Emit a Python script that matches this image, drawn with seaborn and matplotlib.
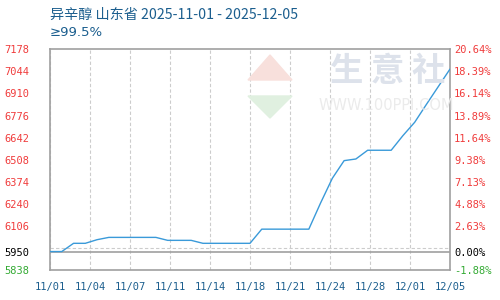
import numpy as np
import pandas as pd
import matplotlib
matplotlib.use("Agg")
import matplotlib.pyplot as plt
import matplotlib.dates as mdates
from matplotlib.patches import Polygon
import seaborn as sns

# ---------------- data ----------------
dates = pd.date_range("2025-11-01", "2025-12-05", freq="D").strftime("%Y-%m-%d").tolist()
prices = [5950, 5950, 6000, 6000, 6022, 6036, 6036, 6036, 6036, 6036,
          6018, 6018, 6018, 6000, 6000, 6000, 6000, 6000, 6086, 6086,
          6086, 6086, 6086, 6245, 6395, 6502, 6512, 6565, 6565, 6565,
          6654, 6735, 6844, 6951, 7058]
x_tick_labels = ["11/01", "11/04", "11/07", "11/11", "11/14", "11/18",
                 "11/21", "11/24", "11/28", "12/01", "12/05"]
base_price = 5950
y_low, y_high = 5838, 7178
left_tick_values = [5838, 5950, 6106, 6240, 6374, 6508, 6642, 6776, 6910, 7044, 7178]
right_tick_labels = ["-1.88%", "0.00%", "2.63%", "4.88%", "7.13%", "9.38%",
                     "11.64%", "13.89%", "16.14%", "18.39%", "20.64%"]
title_line1 = "异辛醇 山东省 2025-11-01 - 2025-12-05"
title_line2 = "≥99.5%"
watermark_cn = "生 意 社"
watermark_en = "WWW.100PPI.COM"

df = pd.DataFrame({"date": pd.to_datetime(dates), "price": prices})

# ---------------- style ----------------
sns.set_style("white")
plt.rcParams["font.family"] = ["DejaVu Sans"]
CJK = ["Noto Sans CJK SC", "DejaVu Sans"]
MONO = ["DejaVu Sans Mono"]
RED, GREEN, BLACK = "#f03c3c", "#33aa33", "#000000"
BLUE_TXT = "#1b5e8e"
LINE = "#3a9ad9"
SPINE = "#a0a0a0"
GRID = "#cccccc"
PT = 0.72  # points per pixel at 100 dpi

fig = plt.figure(figsize=(5, 3), dpi=100)
ax = fig.add_axes([0.1, 0.1, 0.8, 0.7357])

def px(x, y):
    return (x / 500, 1 - y / 300)

# watermark logo (behind everything)
fig.patches.append(Polygon([px(248, 80), px(270, 55), px(292, 80)], closed=True,
                           transform=fig.transFigure, color="#f8e0dc", zorder=0))
fig.patches.append(Polygon([px(248, 96), px(270, 118), px(292, 96)], closed=True,
                           transform=fig.transFigure, color="#e0f0e0", zorder=0))
ax.set_facecolor("none")

fig.text(388 / 500, 1 - 72 / 300, watermark_cn, family=CJK, fontsize=24,
         color="#dde2eb", ha="center", va="center", fontweight="heavy", zorder=0)
fig.text(386 / 500, 1 - 106 / 300, watermark_en, fontsize=10.5,
         color="#ebebeb", ha="center", va="center", zorder=0)

sns.lineplot(data=df, x="date", y="price", ax=ax, color=LINE, linewidth=1.0, zorder=3)

start = mdates.date2num(df["date"].iloc[0])
end = mdates.date2num(df["date"].iloc[-1])
ax.set_xlim(start, end)
ax.set_ylim(y_low, y_high)

xt = np.linspace(start, end, len(x_tick_labels))
ax.set_xticks(xt)
ax.set_xticklabels(x_tick_labels, family=MONO, fontsize=7.5, color=BLUE_TXT)
ax.tick_params(axis="x", length=0, pad=12 * PT)

ax.set_yticks(left_tick_values)
ax.set_yticklabels([str(v) for v in left_tick_values], family=MONO, fontsize=7.5)
for lab, v in zip(ax.get_yticklabels(), left_tick_values):
    lab.set_color(RED if v > base_price else (BLACK if v == base_price else GREEN))
ax.tick_params(axis="y", length=0, pad=21 * PT)

grid_vals = np.linspace(y_low, y_high, len(left_tick_values))
ax.set_yticks(grid_vals, minor=True)
ax.tick_params(axis="y", which="minor", length=0)
ax.grid(axis="y", which="minor", color=GRID, linestyle=(0, (3, 2)), linewidth=0.8)
ax.grid(axis="x", which="major", color=GRID, linestyle=(0, (3, 2)), linewidth=0.8)
ax.grid(axis="y", which="major", visible=False)
ax.axhline(base_price, color=SPINE, linewidth=1.2, zorder=2)

ax.set_xlabel("")
ax.set_ylabel("")
for s in ax.spines.values():
    s.set_visible(True)
    s.set_color(SPINE)
    s.set_linewidth(1.2)

ax2 = ax.twinx()
ax2.set_ylim(y_low, y_high)
ax2.set_yticks(left_tick_values)
ax2.set_yticklabels(right_tick_labels, family=MONO, fontsize=7.5)
for lab, v in zip(ax2.get_yticklabels(), left_tick_values):
    lab.set_color(RED if v > base_price else (BLACK if v == base_price else GREEN))
ax2.tick_params(axis="y", length=0, pad=4 * PT)
for s in ax2.spines.values():
    s.set_visible(False)

fig.text(50 / 500, 1 - 15 / 300, title_line1, family=CJK, fontsize=10.2,
         color=BLUE_TXT, ha="left", va="center")
fig.text(50 / 500, 1 - 33 / 300, title_line2, family=["DejaVu Sans"], fontsize=9.5,
         color=BLUE_TXT, ha="left", va="center")

fig.savefig("out.png", dpi=100)
